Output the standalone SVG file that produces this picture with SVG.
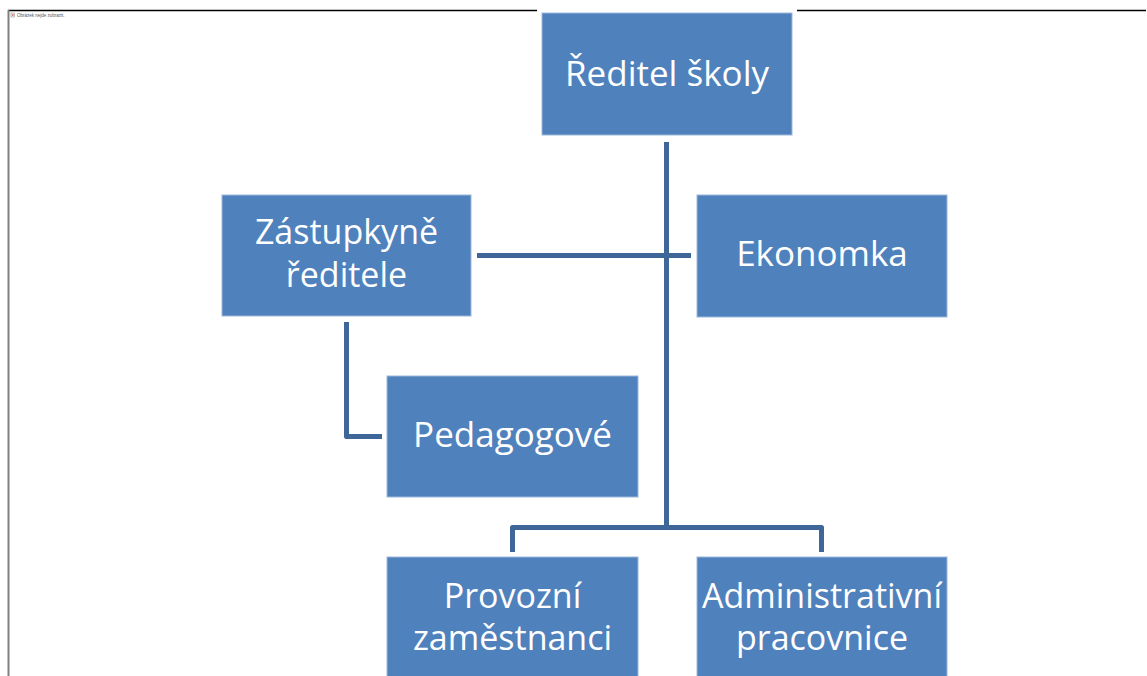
<svg xmlns="http://www.w3.org/2000/svg" width="1147" height="676" viewBox="0 0 1147 676">
<style>
.box{fill:#4F81BD;stroke:#9DB8DB;stroke-width:1}
.lbl{font-family:"Open Sans","Noto Sans","Liberation Sans",sans-serif;font-size:35px;fill:#ffffff;text-anchor:middle}
.two{font-size:34px}
.con{fill:none;stroke:#3E6698;stroke-width:5;stroke-linejoin:round}
</style>
<rect width="1147" height="676" fill="#ffffff"/>
<g id="frame">
<line x1="8" y1="10.5" x2="537" y2="10.5" stroke="#000" stroke-width="1.5"/>
<line x1="797" y1="10.5" x2="1146" y2="10.5" stroke="#000" stroke-width="1.5"/>
<line x1="8.5" y1="10" x2="8.5" y2="676" stroke="#808080" stroke-width="2"/>
<rect x="11" y="13" width="3.5" height="4" fill="#fff" stroke="#999" stroke-width="0.6"/>
<path d="M11.8 13.8 L13.8 16.2 M13.8 13.8 L11.8 16.2" stroke="#d33" stroke-width="0.6"/>
<text x="17" y="16.5" font-family="Liberation Sans, sans-serif" font-size="4.5" fill="#555">Obrázek nejde zobrazit.</text>
</g>
<g id="connectors">
<path class="con" d="M666.5 142 V527.5"/>
<path class="con" d="M477 255.5 H691"/>
<path class="con" d="M346.5 322 V436.5 H382"/>
<path class="con" d="M512.5 552 V527.5 H821.5 V552"/>
</g>
<g id="reditel">
<rect class="box" x="542" y="13" width="250" height="122"/>
<text class="lbl" x="667" y="86">Ředitel školy</text>
</g>
<g id="zastupkyne">
<rect class="box" x="222" y="195" width="249" height="121"/>
<text class="lbl two" x="346.5" y="244">Zástupkyně</text>
<text class="lbl two" x="346.5" y="287">ředitele</text>
</g>
<g id="ekonomka">
<rect class="box" x="697" y="195" width="250" height="122"/>
<text class="lbl" x="822" y="266">Ekonomka</text>
</g>
<g id="pedagogove">
<rect class="box" x="387" y="376" width="251" height="121"/>
<text class="lbl" x="512.5" y="447">Pedagogové</text>
</g>
<g id="provozni">
<rect class="box" x="387" y="557" width="251" height="130"/>
<text class="lbl two" x="512.5" y="608">Provozní</text>
<text class="lbl two" x="512.5" y="650">zaměstnanci</text>
</g>
<g id="administrativni">
<rect class="box" x="697" y="557" width="250" height="130"/>
<text class="lbl two" x="822" y="608">Administrativní</text>
<text class="lbl two" x="822" y="650">pracovnice</text>
</g>
</svg>
